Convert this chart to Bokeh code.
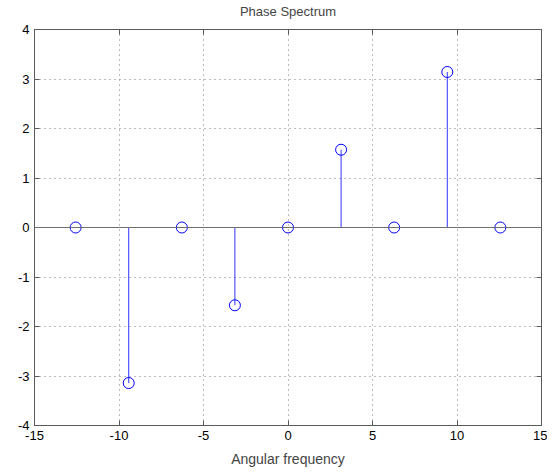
from bokeh.plotting import figure
from bokeh.models import Range1d, LinearAxis, FixedTicker, Span, ColumnDataSource
from bokeh.embed import file_html
from bokeh.resources import INLINE

# Data (angular frequencies and phase values)
freqs = [-12.566, -9.425, -6.283, -3.142, 0.0, 3.142, 6.283, 9.425, 12.566]
phases = [0.0, -3.142, 0.0, -1.571, 0.0, 1.571, 0.0, 3.142, 0.0]
base = [0.0] * len(freqs)
xticks = [-15, -10, -5, 0, 5, 10, 15]
yticks = [-4, -3, -2, -1, 0, 1, 2, 3, 4]
title_text = "Phase Spectrum"

FONT = "Liberation Sans"
AXC = "#5a5a5a"

p = figure(width=547, height=470, output_backend="svg", toolbar_location=None,
           x_range=Range1d(-15, 15), y_range=Range1d(-4, 4),
           x_axis_location=None, y_axis_location=None,
           min_border_left=34, min_border_right=6, min_border_top=29, min_border_bottom=45)

p.title.text = title_text + "\n "
p.title.align = "center"
p.title.vertical_align = "bottom"
p.title.text_font = FONT
p.title.text_font_size = "13px"
p.title.text_font_style = "normal"
p.title.text_line_height = 0.7
p.title.standoff = 0
p.title.offset = 0

def mk_axis(ticks, show_labels, label=None):
    ax = LinearAxis(ticker=FixedTicker(ticks=ticks))
    ax.major_tick_in = 5
    ax.major_tick_out = 0
    ax.minor_tick_in = 0
    ax.minor_tick_out = 0
    ax.axis_line_color = AXC
    ax.major_tick_line_color = AXC
    ax.major_label_text_font = FONT
    if show_labels:
        ax.major_label_text_font_size = "13px"
        ax.major_label_text_color = "black"
        ax.major_label_standoff = 5
        ax.major_label_overrides = {t: str(t) for t in ticks}
    else:
        ax.major_label_text_font_size = "1px"
        ax.major_label_text_color = None
        ax.major_label_standoff = 0
    if label:
        ax.axis_label = label
        ax.axis_label_text_font = FONT
        ax.axis_label_text_font_size = "14px"
        ax.axis_label_text_font_style = "normal"
        ax.axis_label_standoff = 8
    return ax

p.add_layout(mk_axis(xticks, True, "Angular frequency"), "below")
p.add_layout(mk_axis(yticks, True), "left")
p.add_layout(mk_axis(xticks, False), "above")
p.add_layout(mk_axis(yticks, False), "right")

p.xgrid.ticker = FixedTicker(ticks=xticks)
p.ygrid.ticker = FixedTicker(ticks=yticks)
for g in (p.xgrid, p.ygrid):
    g.grid_line_color = "#7a7a7a"
    g.grid_line_dash = "1 4"
    g.grid_line_width = 1

p.outline_line_color = AXC
p.background_fill_color = "white"
p.border_fill_color = "white"

# baseline
p.add_layout(Span(location=0, dimension="width", line_color="#707070", line_width=1.2))

src = ColumnDataSource(dict(x=freqs, y=phases, y0=base))
p.segment(x0="x", y0="y0", x1="x", y1="y", source=src, line_color="#0000ff", line_width=1, line_alpha=0.8)
p.scatter(x="x", y="y", source=src, marker="circle", size=11, fill_color=None,
          line_color="#0000ff", line_width=1)

open("out.html", "w").write(file_html(p, INLINE))
